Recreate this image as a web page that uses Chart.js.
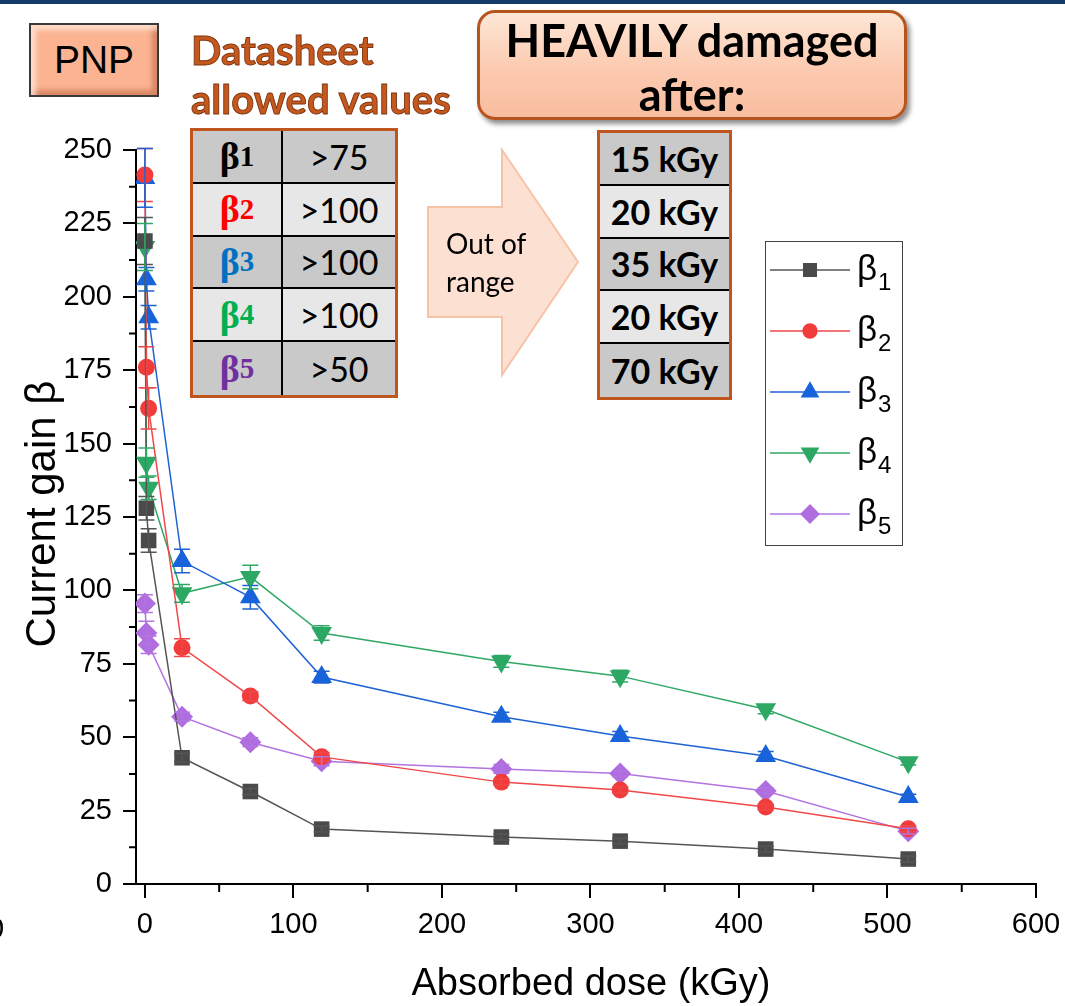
<!DOCTYPE html>
<html>
<head>
<meta charset="utf-8">
<script src="https://cdn.jsdelivr.net/npm/chart.js@4.4.1/dist/chart.umd.min.js"></script>
<style>
  html, body { margin: 0; padding: 0; background: #fff; }
  #wrap { position: relative; width: 1065px; height: 1006px; overflow: hidden; font-family: "Liberation Sans", Arial, sans-serif; }
  #chart { position: absolute; left: 0; top: 0; }
  .topbar { position: absolute; left: 0; top: 0; width: 1065px; height: 4px; background: #123a6b; }
  .cut0 { position: absolute; left: -12px; top: 912px; font-size: 29px; line-height: 32px; }
  .pnp { position: absolute; left: 29px; top: 23px; width: 130px; height: 74px; box-sizing: border-box;
         border: 2px solid #3a3a3a; background: #fbb392;
         box-shadow: inset 5px 5px 5px rgba(255,235,220,.75), inset -5px -5px 5px rgba(170,80,40,.45);
         font-size: 39px; line-height: 70px; text-align: center; color: #000; }
  .sheet { position: absolute; left: 191px; top: 26px; font-family: Lato, "Open Sans", sans-serif; font-weight: 700;
           font-size: 40px; line-height: 49px; color: #c5581d; -webkit-text-stroke: 0.9px #7d3410; }
  .tbl { position: absolute; box-sizing: border-box; border: 3px solid #c0561e; background: #c0561e;
         display: grid; }
  .tbl div { display: flex; align-items: center; justify-content: center; }
  .tl { left: 190px; top: 128px; width: 208px; height: 270px; grid-template-columns: 90px 112px; grid-template-rows: repeat(5, 1fr); }
  .tl .c { border-right: 2px solid #000; border-bottom: 2px solid #000; }
  .tl .v { border-bottom: 2px solid #000; font-family: Lato, "Open Sans", sans-serif; font-size: 34px; }
  .tl .last { border-bottom: none; }
  .dk { background: #c9c9c9; }
  .lt { background: #e7e7e7; }
  .b { font-family: "Liberation Serif", "DejaVu Serif", serif; font-weight: 700; font-size: 38px; }
  .b sub { font-size: 29px; vertical-align: -8px; }
  .arrow { position: absolute; left: 0; top: 0; }
  .oor { position: absolute; left: 446px; top: 224px; font-family: Lato, "Open Sans", sans-serif; font-size: 28px; line-height: 38px; color: #000; }
  .heavy { position: absolute; left: 477px; top: 10px; width: 430px; height: 110px; box-sizing: border-box;
           border: 3px solid #b5541c; border-radius: 18px;
           background: linear-gradient(#fde6d6, #fccab0 55%, #f8bd9f);
           box-shadow: 3px 4px 5px rgba(0,0,0,.45);
           font-family: Lato, "Open Sans", sans-serif; font-weight: 700; font-size: 45px; line-height: 54px; text-align: center; color: #000; }
  .tr { left: 597px; top: 130px; width: 135px; height: 270px; grid-template-columns: 1fr; grid-template-rows: repeat(5, 1fr); }
  .tr div { border-bottom: 2px solid #000; font-family: Lato, "Open Sans", sans-serif; font-weight: 700; font-size: 34px; }
  .tr .last { border-bottom: none; }
</style>
</head>
<body>
<div id="wrap">
  <canvas id="chart" width="1065" height="1006"></canvas>
  <div class="topbar"></div>
  <div class="cut0">0</div>
  <div class="pnp">PNP</div>
  <div class="sheet">Datasheet<br>allowed values</div>
  <div class="tbl tl">
    <div class="c dk b" style="color:#000">β<sub>1</sub></div><div class="v dk">&gt;75</div>
    <div class="c lt b" style="color:#ff0000">β<sub>2</sub></div><div class="v lt">&gt;100</div>
    <div class="c dk b" style="color:#0070c0">β<sub>3</sub></div><div class="v dk">&gt;100</div>
    <div class="c lt b" style="color:#00b050">β<sub>4</sub></div><div class="v lt">&gt;100</div>
    <div class="c dk b last" style="color:#7030a0">β<sub>5</sub></div><div class="v dk last">&gt;50</div>
  </div>
  <svg class="arrow" width="1065" height="500">
    <polygon points="428,207 502,207 502,150 578,262 502,375 502,317 428,317"
             fill="#fce1d3" stroke="#f6c3a6" stroke-width="2"/>
  </svg>
  <div class="oor">Out of<br>range</div>
  <div class="heavy">HEAVILY damaged<br>after:</div>
  <div class="tbl tr">
    <div class="dk">15 kGy</div>
    <div class="lt">20 kGy</div>
    <div class="dk">35 kGy</div>
    <div class="lt">20 kGy</div>
    <div class="dk last">70 kGy</div>
  </div>
</div>

<script>
// absorbed dose (kGy) of each measurement
const doses = [0, 1, 2.5, 25, 71, 119, 240, 320, 418, 514];

// current gain of each transistor
const beta1 = [219, 128, 117, 43, 31.5, 18.7, 16, 14.6, 11.9, 8.5];
const beta2 = [241.5, 176, 162, 80.5, 64, 43.3, 34.7, 32, 26.2, 18.8];
const beta3 = [240.5, 206, 193, 110, 97.7, 70.5, 57, 50.4, 43.6, 29.6];
const beta4 = [217, 143.5, 135, 99, 104.6, 85.5, 75.8, 70.8, 59.5, 41.5];
const beta5 = [95.5, 85.5, 81.5, 57, 48.3, 41.8, 39.2, 37.6, 31.7, 18];

// error bar half-heights
const err1 = [8, 4, 4, 1.5, 1, 1, 1, 1, 1, 1];
const err2 = [9, 7, 7, 3, 1.5, 1.5, 1, 1, 1, 1];
const err3 = [10, 4, 4, 4, 4, 2, 1.5, 1.5, 1.5, 1];
const err4 = [8, 5, 4, 3, 4, 2.5, 2, 2, 1.5, 1];
const err5 = [3, 4, 3, 1.5, 1.5, 1.5, 1.5, 1, 1, 1];

const xTicks = [0, 100, 200, 300, 400, 500, 600];
const yTicks = [0, 25, 50, 75, 100, 125, 150, 175, 200, 225, 250];
const xMinor = [50, 150, 250, 350, 450, 550];
const yMinor = [12.5, 37.5, 62.5, 87.5, 112.5, 137.5, 162.5, 187.5, 212.5, 237.5];

const seriesNames = ['1', '2', '3', '4', '5'];

const series = [
  { data: beta1, err: err1, line: '#555555', mark: '#4a4a4a', style: 'rect',     radius: 11, rot: 0 },
  { data: beta2, err: err2, line: '#f04848', mark: '#f23c3c', style: 'circle',   radius: 8.5, rot: 0 },
  { data: beta3, err: err3, line: '#1f63d3', mark: '#1763dc', style: 'triangle', radius: 12, rot: 0 },
  { data: beta4, err: err4, line: '#2fa866', mark: '#2da864', style: 'triangle', radius: 12, rot: 180 },
  { data: beta5, err: err5, line: '#b274e0', mark: '#b06ddf', style: 'rectRot',  radius: 11, rot: 0 },
];

const FONT = '"Liberation Sans", Arial, sans-serif';

/* error bars, minor ticks, axis titles, legend */
const extras = {
  id: 'extras',
  afterDatasetsDraw(chart) {
    const { ctx, scales: { x, y } } = chart;
    chart.data.datasets.forEach((ds, i) => {
      const errs = series[i].err;
      ctx.save();
      ctx.strokeStyle = series[i].line;
      ctx.lineWidth = 1.5;
      ds.data.forEach((p, j) => {
        const px = x.getPixelForValue(p.x);
        const t = y.getPixelForValue(p.y + errs[j]);
        const b = y.getPixelForValue(p.y - errs[j]);
        ctx.beginPath();
        ctx.moveTo(px, t); ctx.lineTo(px, b);
        ctx.moveTo(px - 8, t); ctx.lineTo(px + 8, t);
        ctx.moveTo(px - 8, b); ctx.lineTo(px + 8, b);
        ctx.stroke();
      });
      ctx.restore();
    });
  },
  afterDraw(chart) {
    const { ctx, chartArea: a, scales: { x, y } } = chart;
    ctx.save();
    ctx.strokeStyle = '#000';
    ctx.lineWidth = 2;
    ctx.beginPath();
    xMinor.forEach(v => { const p = x.getPixelForValue(v); ctx.moveTo(p, a.bottom); ctx.lineTo(p, a.bottom + 8); });
    yMinor.forEach(v => { const p = y.getPixelForValue(v); ctx.moveTo(a.left, p); ctx.lineTo(a.left - 7, p); });
    ctx.stroke();

    // axis titles
    ctx.fillStyle = '#000';
    ctx.font = '38px ' + FONT;
    ctx.textAlign = 'center';
    ctx.textBaseline = 'middle';
    ctx.fillText('Absorbed dose (kGy)', 591, 985);
    ctx.font = '42px ' + FONT;
    ctx.translate(43, 514);
    ctx.rotate(-Math.PI / 2);
    ctx.fillText('Current gain β', 0, 0);
    ctx.restore();

    // legend
    ctx.save();
    ctx.fillStyle = '#fff';
    ctx.fillRect(765, 241, 137, 304);
    ctx.strokeStyle = '#444';
    ctx.lineWidth = 1;
    ctx.strokeRect(765.5, 241.5, 137, 304);
    series.forEach((s, i) => {
      const ly = 270 + i * 61;
      ctx.strokeStyle = s.line;
      ctx.lineWidth = 1.5;
      ctx.beginPath(); ctx.moveTo(770, ly); ctx.lineTo(850, ly); ctx.stroke();
      ctx.fillStyle = s.mark;
      Chart.helpers.drawPoint(ctx, { pointStyle: s.style, radius: s.radius * 0.9, rotation: s.rot, borderWidth: 0 }, 810, ly);
      ctx.fillStyle = '#000';
      ctx.textAlign = 'left';
      ctx.textBaseline = 'middle';
      ctx.font = '35px ' + FONT;
      ctx.fillText('β', 857, ly);
      ctx.font = '24px ' + FONT;
      ctx.fillText(seriesNames[i], 878, ly + 13);
    });
    ctx.restore();
  }
};

new Chart(document.getElementById('chart'), {
  type: 'line',
  data: {
    datasets: series.map((s, i) => ({
      label: 'β' + seriesNames[i],
      data: doses.map((d, j) => ({ x: d, y: s.data[j] })),
      borderColor: s.line,
      backgroundColor: s.mark,
      borderWidth: 1.5,
      pointStyle: s.style,
      pointRadius: s.radius,
      pointRotation: s.rot,
      pointBackgroundColor: s.mark,
      pointBorderWidth: 0,
      tension: 0,
    })),
  },
  options: {
    responsive: false,
    animation: false,
    layout: { padding: { left: 0, top: 150, right: 29, bottom: 0 } },
    plugins: { legend: { display: false }, tooltip: { enabled: false } },
    scales: {
      x: {
        type: 'linear',
        min: -6, max: 600,
        afterBuildTicks: sc => { sc.ticks = xTicks.map(v => ({ value: v })); },
        afterFit: sc => { sc.height = 122; sc.paddingLeft = 0; sc.paddingRight = 0; },
        border: { color: '#000', width: 2 },
        grid: { drawOnChartArea: false, tickLength: 14, tickColor: '#000', lineWidth: 2 },
        ticks: { color: '#000', padding: 10, maxRotation: 0, font: { family: FONT, size: 29 } },
      },
      y: {
        min: 0, max: 250,
        afterBuildTicks: sc => { sc.ticks = yTicks.map(v => ({ value: v })); },
        afterFit: sc => { sc.width = 136; sc.paddingTop = 0; sc.paddingBottom = 0; },
        border: { color: '#000', width: 2 },
        grid: { drawOnChartArea: false, tickLength: 13, tickColor: '#000', lineWidth: 2 },
        ticks: { color: '#000', padding: 11, font: { family: FONT, size: 29 } },
      },
    },
  },
  plugins: [extras],
});
</script>
</body>
</html>
